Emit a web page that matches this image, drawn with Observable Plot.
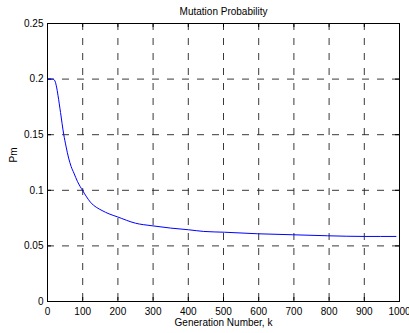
<!DOCTYPE html>
<html>
<head>
<meta charset="utf-8">
<script src="https://cdn.jsdelivr.net/npm/d3@7"></script>
<script src="https://cdn.jsdelivr.net/npm/@observablehq/plot@0.6"></script>
<style>
  html, body { margin: 0; padding: 0; background: #fff; }
  svg { display: block; }
</style>
</head>
<body>
<div id="chart"></div>
<script>
const generations = [0, 15, 20, 25, 30, 37, 46, 53, 60, 67, 75, 85, 100, 122, 155, 175, 198, 250, 297, 350, 401, 444, 503, 597, 697, 796, 901, 990];
const pm = [0.2, 0.2, 0.199, 0.194, 0.185, 0.170, 0.1505, 0.139, 0.129, 0.1215, 0.1155, 0.108, 0.0997, 0.0893, 0.0818, 0.0788, 0.0762, 0.0704, 0.0681, 0.066, 0.0645, 0.063, 0.0623, 0.0609, 0.0600, 0.0591, 0.0585, 0.0585];
const xTicks = [0, 100, 200, 300, 400, 500, 600, 700, 800, 900, 1000];
const xTickLabels = ["0", "100", "200", "300", "400", "500", "600", "700", "800", "900", "1000"];
const yTicks = [0, 0.05, 0.1, 0.15, 0.2, 0.25];
const yTickLabels = ["0", "0.05", "0.1", "0.15", "0.2", "0.25"];
const title = "Mutation Probability";
const xLabel = "Generation Number, k";
const yLabel = "Pm";

const data = generations.map((g, i) => ({g, p: pm[i]}));
const W = 409, H = 333, mL = 47, mR = 10, mT = 23, mB = 32;
const innerW = W - mL - mR, innerH = H - mT - mB;
const tickLen = 4;
const xGrid = xTicks.filter(d => d > 0 && d < 1000);
const yGrid = yTicks.filter(d => d > 0 && d < 0.25);
const gridStyle = {stroke: "#222", strokeOpacity: 1, strokeWidth: 0.9, strokeDasharray: "7,8"};

const chart = Plot.plot({
  width: W, height: H,
  marginLeft: mL, marginRight: mR, marginTop: mT, marginBottom: mB,
  style: {fontFamily: "'Liberation Sans', Arial, sans-serif", fontSize: "10px", background: "#fff", color: "#000", overflow: "visible"},
  x: {domain: [0, 1000]},
  y: {domain: [0, 0.25]},
  marks: [
    Plot.gridX(xGrid, gridStyle),
    Plot.gridY(yGrid, gridStyle),
    Plot.tickX(xTicks, {x: d => d, stroke: "#000", insetTop: innerH - tickLen}),
    Plot.tickX(xTicks, {x: d => d, stroke: "#000", insetBottom: innerH - tickLen}),
    Plot.tickY(yTicks, {y: d => d, stroke: "#000", insetRight: innerW - tickLen}),
    Plot.tickY(yTicks, {y: d => d, stroke: "#000", insetLeft: innerW - tickLen}),
    Plot.line(data, {x: "g", y: "p", stroke: "#0000ff", strokeWidth: 1, curve: "monotone-x"}),
    Plot.frame({stroke: "#000", strokeWidth: 1}),
    Plot.axisX(xTicks, {tickSize: 0, tickPadding: 6, tickFormat: (d, i) => xTickLabels[i], label: null, fill: "#000"}),
    Plot.axisY(yTicks, {tickSize: 0, tickPadding: 4, tickFormat: (d, i) => yTickLabels[i], label: null, fill: "#000"}),
    Plot.text([title], {frameAnchor: "top", dy: -9, lineAnchor: "bottom", fill: "#000", fontSize: 10}),
    Plot.text([xLabel], {frameAnchor: "bottom", dy: 24, lineAnchor: "bottom", fill: "#000", fontSize: 10}),
    Plot.text([yLabel], {frameAnchor: "left", dx: -31, rotate: -90, lineAnchor: "bottom", fill: "#000", fontSize: 10})
  ]
});
document.getElementById("chart").appendChild(chart);
</script>
</body>
</html>
